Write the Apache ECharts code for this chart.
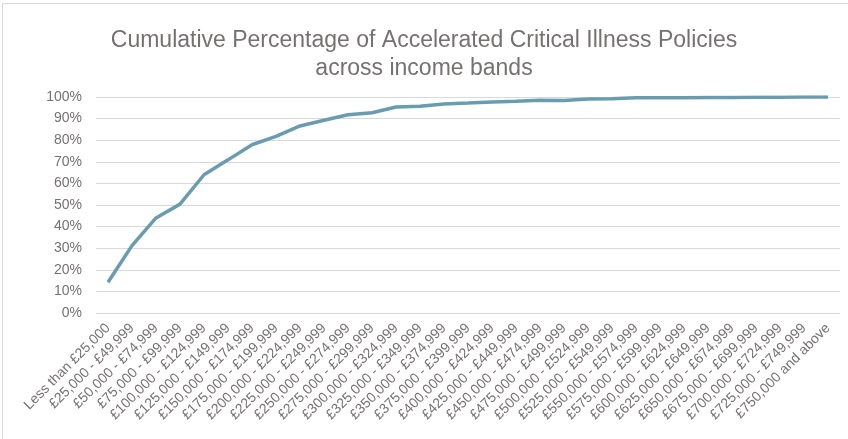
<!DOCTYPE html>
<html>
<head>
<meta charset="utf-8">
<script src="https://cdn.jsdelivr.net/npm/echarts@6/dist/echarts.min.js"></script>
<style>
  html, body { margin: 0; padding: 0; background: #fff; }
  #frame { position: absolute; left: 2px; top: 3px; width: 846px; height: 436px;
    border-left: 1px solid #d9d9d9; border-top: 1px solid #d9d9d9; box-sizing: border-box; }
  #chart { position: absolute; left: 0; top: 0; width: 848px; height: 439px; }
</style>
</head>
<body>
<div id="frame"></div>
<div id="chart"></div>
<script>
// income bands
const bands = [
  'Less than £25,000', '£25,000 - £49,999', '£50,000 - £74,999', '£75,000 - £99,999',
  '£100,000 - £124,999', '£125,000 - £149,999', '£150,000 - £174,999', '£175,000 - £199,999',
  '£200,000 - £224,999', '£225,000 - £249,999', '£250,000 - £274,999', '£275,000 - £299,999',
  '£300,000 - £324,999', '£325,000 - £349,999', '£350,000 - £374,999', '£375,000 - £399,999',
  '£400,000 - £424,999', '£425,000 - £449,999', '£450,000 - £474,999', '£475,000 - £499,999',
  '£500,000 - £524,999', '£525,000 - £549,999', '£550,000 - £574,999', '£575,000 - £599,999',
  '£600,000 - £624,999', '£625,000 - £649,999', '£650,000 - £674,999', '£675,000 - £699,999',
  '£700,000 - £724,999', '£725,000 - £749,999', '£750,000 and above'
]
// cumulative share, fraction of policies
const cumulative = [
  0.142, 0.312, 0.440, 0.504, 0.640, 0.709, 0.779, 0.818, 0.866, 0.892,
  0.918, 0.927, 0.954, 0.957, 0.968, 0.972, 0.977, 0.980, 0.985, 0.984,
  0.991, 0.992, 0.997, 0.997, 0.997, 0.998, 0.998, 0.999, 0.999, 1.0, 1.0
]
const chartTitle = 'Cumulative Percentage of Accelerated Critical Illness Policies\nacross income bands'

const textColor = '#767171'
const chart = echarts.init(document.getElementById('chart'))
chart.setOption({
  animation: false,
  title: {
    text: chartTitle,
    left: 'center',
    top: 22,
    textStyle: {
      fontFamily: 'Liberation Sans',
      fontSize: 23,
      fontWeight: 'normal',
      color: textColor,
      lineHeight: 28
    }
  },
  grid: { left: 96, right: 8, top: 97, bottom: 126 },
  xAxis: {
    type: 'category',
    data: bands,
    boundaryGap: true,
    axisLine: { show: false },
    axisTick: { show: false },
    axisLabel: {
      interval: 0,
      rotate: 45,
      margin: 13,
      fontFamily: 'Liberation Sans',
      fontSize: 14,
      color: textColor
    }
  },
  yAxis: {
    type: 'value',
    min: 0,
    max: 1,
    interval: 0.1,
    axisLine: { show: false },
    axisTick: { show: false },
    splitLine: { lineStyle: { color: '#d9d9d9', width: 1 } },
    axisLabel: {
      formatter: v => Math.round(v * 100) + '%',
      fontFamily: 'Liberation Sans',
      fontSize: 14,
      color: textColor,
      margin: 14
    }
  },
  series: [{
    type: 'line',
    data: cumulative,
    symbol: 'none',
    lineStyle: { color: '#6a9cb1', width: 3.5 }
  }]
})
</script>
</body>
</html>
